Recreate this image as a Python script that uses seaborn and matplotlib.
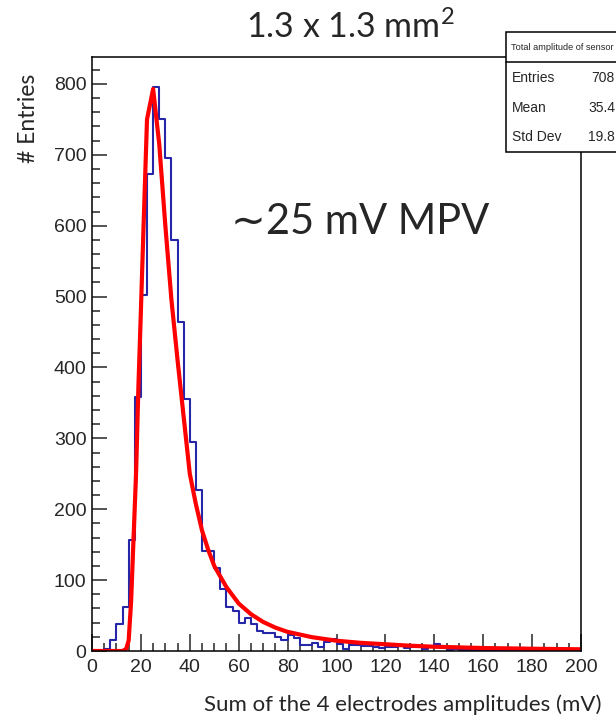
import numpy as np
import pandas as pd
import matplotlib
matplotlib.use("Agg")
import matplotlib.pyplot as plt
import matplotlib.patches as mpatches
from matplotlib.ticker import MultipleLocator
import seaborn as sns

# ---------------- data ----------------
bin_width = 2.5  # mV, 80 bins from 0 to 200
counts = [0, 0, 3, 16, 38, 62, 157, 358, 502, 673,
          795, 751, 696, 580, 464, 355, 295, 227, 141, 141,
          117, 87, 62, 57, 39, 47, 38, 28, 26, 25,
          20, 15, 22, 19, 9, 9, 11, 6, 13, 17,
          10, 3, 9, 9, 7, 7, 5, 4, 6, 5,
          7, 4, 6, 5, 3, 5, 10, 7, 2, 3,
          1, 2, 1, 0, 1, 2, 0, 1, 0, 1,
          0, 1, 0, 0, 1, 0, 0, 1, 0, 0]

fit_x = [0, 12.5, 14, 15, 16, 17, 18, 19, 20, 21, 22.5, 25, 27.5, 30, 32.5,
         35, 37.5, 40, 42.5, 45, 47.5, 50, 55, 60, 65, 70, 75, 80, 90,
         100, 110, 120, 130, 140, 160, 180, 200]
fit_y = [0, 0, 3, 15, 70, 160, 248, 375, 480, 590, 750, 793, 715, 600, 495,
         410, 330, 250, 207, 170, 143, 120, 90, 67, 52, 41, 33, 27, 19.5,
         14.5, 11.5, 9.5, 7.5, 6, 4.2, 3.2, 2.4]

title_text = "1.3 x 1.3 mm$^{2}$"
mpv_text = "\u223c25 mV MPV"
x_label = "Sum of the 4 electrodes amplitudes (mV)"
y_label = "# Entries"
stats_title = "Total amplitude of sensor"
stats_names = ["Entries", "Mean", "Std Dev"]
stats_values = ["708", "35.4", "19.8"]

# ---------------- style ----------------
sns.set_style("ticks")
plt.rcParams["font.family"] = ["Liberation Sans", "DejaVu Sans"]
plt.rcParams["mathtext.fontset"] = "custom"
plt.rcParams["mathtext.rm"] = "Lato"
plt.rcParams["mathtext.it"] = "Lato:italic"
plt.rcParams["mathtext.bf"] = "Lato:bold"

W, H = 616, 721
fig = plt.figure(figsize=(W / 100, H / 100), dpi=100)
fig.patch.set_facecolor("white")

L, R, T, B = 92, 581, 57, 651
ax = fig.add_axes([L / W, (H - B) / H, (R - L) / W, (B - T) / H])

n_bins = len(counts)
centers = [(i + 0.5) * bin_width for i in range(n_bins)]
df = pd.DataFrame({"amp": centers, "n": counts})

sns.histplot(data=df, x="amp", weights="n", binwidth=bin_width,
             binrange=(0, n_bins * bin_width), element="step",
             fill=False, color="#2626a8", linewidth=1.5, ax=ax)
sns.lineplot(x=fit_x, y=fit_y, color="#ff0000", linewidth=3.0, ax=ax,
             sort=False, estimator=None)

ax.set_xlim(0, 200)
ax.set_ylim(0, 838)

ax.xaxis.set_major_locator(MultipleLocator(20))
ax.xaxis.set_minor_locator(MultipleLocator(5))
ax.yaxis.set_major_locator(MultipleLocator(100))
ax.yaxis.set_minor_locator(MultipleLocator(20))

ax.tick_params(axis="x", which="major", direction="in", length=12, width=1.1,
               labelsize=14, pad=6, top=False)
ax.tick_params(axis="x", which="minor", direction="in", length=6, width=1.1,
               top=False)
ax.tick_params(axis="y", which="major", direction="in", length=11, width=1.1,
               labelsize=14, pad=4, right=False)
ax.tick_params(axis="y", which="minor", direction="in", length=5.5, width=1.1,
               right=False)

for s in ax.spines.values():
    s.set_visible(True)
    s.set_color("black")
    s.set_linewidth(1.1)

lab_font = ["Lato", "DejaVu Sans"]
ax.set_xlabel(x_label, family=lab_font, fontsize=16, ha="center", va="top")
ax.xaxis.set_label_coords((403 - L) / (R - L), (B - 694) / (B - T))
ax.set_ylabel(y_label, family=lab_font, fontsize=16.5)
ax.yaxis.set_label_coords((39 - L) / (R - L), (B - 118) / (B - T))

fig.text(350 / W, 1 - 27 / H, title_text, family=lab_font, fontsize=24.5,
         ha="center", va="center")
fig.text(360 / W, 1 - 222 / H, mpv_text, family=lab_font, fontsize=30,
         ha="center", va="center")

# stats box (partly outside the canvas, as in the reference)
bx0, by0, by1, bh = 506, 32, 152, 62
box = mpatches.Rectangle((bx0 / W, 1 - by1 / H), (W + 40 - bx0) / W,
                         (by1 - by0) / H, transform=fig.transFigure,
                         facecolor="white", edgecolor="black", linewidth=1.1,
                         clip_on=False)
fig.add_artist(box)
fig.add_artist(plt.Line2D([bx0 / W, 1.05], [1 - bh / H, 1 - bh / H],
                          transform=fig.transFigure, color="black",
                          linewidth=1.1))
fig.text(511 / W, 1 - 47 / H, stats_title, fontsize=6.6, ha="left",
         va="center")
for i, (nm, val) in enumerate(zip(stats_names, stats_values)):
    yc = 1 - (78 + 29.5 * i) / H
    fig.text(512 / W, yc, nm, fontsize=10, ha="left", va="center")
    fig.text(615 / W, yc, val, fontsize=10, ha="right", va="center")

fig.savefig("out.png", dpi=100)
